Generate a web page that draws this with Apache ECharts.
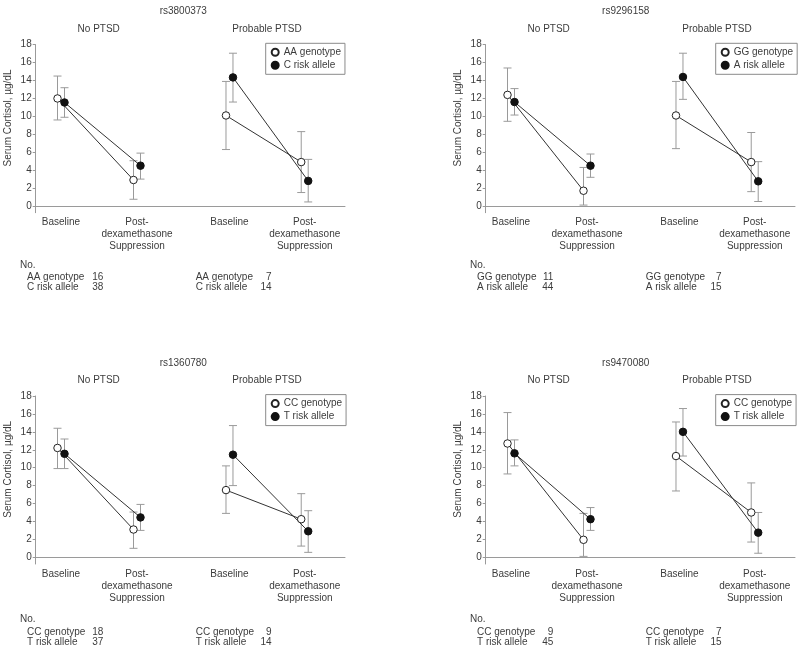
<!DOCTYPE html>
<html>
<head>
<meta charset="utf-8">
<script src="https://cdn.jsdelivr.net/npm/echarts@6/dist/echarts.min.js"></script>
<style>html,body{margin:0;padding:0;background:#fff}#c{width:800px;height:653px}</style>
</head>
<body>
<div id="c"></div>
<script>
// ---------- data ----------
const snps = ['rs3800373', 'rs9296158', 'rs1360780', 'rs9470080'];
const groups = ['No PTSD', 'Probable PTSD'];
const timeLabels = ['Baseline', 'Post-\ndexamethasone\nSuppression', 'Baseline', 'Post-\ndexamethasone\nSuppression'];
const refNames = ['AA genotype', 'GG genotype', 'CC genotype', 'CC genotype'];
const riskNames = ['C risk allele', 'A risk allele', 'T risk allele', 'T risk allele'];
const yTicks = [0, 2, 4, 6, 8, 10, 12, 14, 16, 18];

// order of values: [No PTSD baseline, No PTSD post, Probable baseline, Probable post]
const refMean = [
  [12.0, 2.9, 10.1, 4.9],
  [12.4, 1.7, 10.1, 4.9],
  [12.2, 3.1, 7.5, 4.25],
  [12.7, 1.95, 11.3, 5.0]
];
const refLow = [
  [9.6, 0.75, 6.3, 1.5],
  [9.45, 0.1, 6.4, 1.6],
  [9.9, 1.0, 4.9, 1.25],
  [9.3, 0.1, 7.4, 1.7]
];
const refHigh = [
  [14.5, 5.05, 13.9, 8.3],
  [15.4, 4.3, 13.9, 8.2],
  [14.4, 5.05, 10.2, 7.1],
  [16.15, 4.9, 15.1, 8.3]
];
const riskMean = [
  [11.55, 4.5, 14.35, 2.8],
  [11.6, 4.5, 14.4, 2.75],
  [11.55, 4.45, 11.45, 2.9],
  [11.6, 4.25, 14.0, 2.75]
];
const riskLow = [
  [9.9, 3.0, 11.6, 0.45],
  [10.15, 3.2, 11.9, 0.5],
  [9.9, 3.0, 8.0, 0.55],
  [10.2, 3.0, 11.3, 0.45]
];
const riskHigh = [
  [13.2, 5.9, 17.05, 5.2],
  [13.1, 5.8, 17.05, 4.95],
  [13.2, 5.9, 14.7, 5.2],
  [13.1, 5.55, 16.6, 5.0]
];
// counts: [No PTSD, Probable PTSD]
const refN = [[16, 7], [11, 7], [18, 9], [9, 7]];
const riskN = [[38, 14], [44, 15], [37, 14], [45, 15]];

// ---------- layout ----------
const xPos = [1, 2, 3.217, 4.207];
const xOff = 0.046;
const panelDX = [0, 450, 0, 450];
const panelDY = [0, 0, 351.3, 351.3];
const tableDY = [0, 0, 354.3, 354.3];
const titleDX = [0, 442.4, 0, 442.4];
const FONT = "'Liberation Sans', Arial, sans-serif";
const TXT = '#3c3c3c';

const grids = [], xAxes = [], yAxes = [], series = [], legends = [], graphics = [];

function errRender(params, api) {
  const x = api.value(0), lo = api.value(1), hi = api.value(2);
  const p1 = api.coord([x, hi]), p2 = api.coord([x, lo]);
  const w = 4;
  const st = { stroke: '#9a9a9a', lineWidth: 1 };
  return {
    type: 'group', children: [
      { type: 'line', shape: { x1: p1[0], y1: p1[1], x2: p2[0], y2: p2[1] }, style: st },
      { type: 'line', shape: { x1: p1[0] - w, y1: p1[1], x2: p1[0] + w, y2: p1[1] }, style: st },
      { type: 'line', shape: { x1: p2[0] - w, y1: p2[1], x2: p2[0] + w, y2: p2[1] }, style: st }
    ]
  };
}

function txt(x, y, text, align, extra) {
  return Object.assign({
    type: 'text', x: x, y: y, silent: true,
    style: { text: text, fill: TXT, font: '10px ' + FONT, textAlign: align || 'left', textVerticalAlign: 'middle' }
  }, extra || {});
}

for (let p = 0; p < 4; p++) {
  const dx = panelDX[p], dy = panelDY[p], tdy = tableDY[p];
  grids.push({ left: 35.7 + dx, top: 44.7 + dy, width: 309.3, height: 168 });
  xAxes.push({
    type: 'value', gridIndex: p, min: 0.667, max: 4.737,
    axisLine: { show: true, lineStyle: { color: '#9a9a9a', width: 1 } },
    axisTick: { show: false },
    splitLine: { show: false },
    axisLabel: {
      customValues: xPos, margin: 4, color: TXT, fontSize: 10, fontFamily: FONT, lineHeight: 12,
      formatter: function (v) {
        let best = 0;
        for (let i = 0; i < xPos.length; i++) if (Math.abs(xPos[i] - v) < Math.abs(xPos[best] - v)) best = i;
        return timeLabels[best];
      }
    }
  });
  yAxes.push({
    type: 'value', gridIndex: p, min: -0.75, max: 18,
    axisLine: { show: true, lineStyle: { color: '#9a9a9a', width: 1 } },
    axisTick: { show: true, customValues: yTicks, length: 3, lineStyle: { color: '#9a9a9a' } },
    splitLine: { show: false },
    axisLabel: { customValues: yTicks, margin: 4, color: TXT, fontSize: 10, fontFamily: FONT }
  });

  // error bars
  const errData = [];
  for (let k = 0; k < 4; k++) {
    errData.push([xPos[k] - xOff, refLow[p][k], refHigh[p][k]]);
    errData.push([xPos[k] + xOff, riskLow[p][k], riskHigh[p][k]]);
  }
  series.push({
    type: 'custom', xAxisIndex: p, yAxisIndex: p, renderItem: errRender,
    encode: { x: 0, y: [1, 2] }, data: errData, z: 1, silent: true
  });

  // lines + markers
  for (let g = 0; g < 2; g++) {
    const i0 = g * 2, i1 = g * 2 + 1;
    series.push({
      name: refNames[p], type: 'line', xAxisIndex: p, yAxisIndex: p, z: 3,
      data: [[xPos[i0] - xOff, refMean[p][i0]], [xPos[i1] - xOff, refMean[p][i1]]],
      symbol: 'circle', symbolSize: 7.5, showSymbol: true,
      lineStyle: { color: '#333', width: 1 },
      itemStyle: { color: '#fff', borderColor: '#222', borderWidth: 1 },
      emphasis: { disabled: true }, animation: false
    });
    series.push({
      name: riskNames[p], type: 'line', xAxisIndex: p, yAxisIndex: p, z: 3,
      data: [[xPos[i0] + xOff, riskMean[p][i0]], [xPos[i1] + xOff, riskMean[p][i1]]],
      symbol: 'circle', symbolSize: 7.5, showSymbol: true,
      lineStyle: { color: '#333', width: 1 },
      itemStyle: { color: '#111', borderColor: '#111', borderWidth: 1 },
      emphasis: { disabled: true }, animation: false
    });
  }

  legends.push({
    left: 265.7 + dx, top: 43.3 + dy, orient: 'vertical',
    data: [refNames[p], riskNames[p]],
    icon: 'circle', itemWidth: 7, itemHeight: 7, itemGap: 3, itemTextGap: 4,
    padding: [4, 4, 4, 5], borderColor: '#8a8a8a', borderWidth: 1,
    textStyle: { fontSize: 10, color: TXT, fontFamily: FONT },
    selectedMode: false
  });

  // texts
  graphics.push(txt(183.3 + titleDX[p], 11.7 + dy, snps[p], 'center'));
  graphics.push(txt(98.7 + dx, 29 + dy, groups[0], 'center'));
  graphics.push(txt(267 + dx, 29 + dy, groups[1], 'center'));
  graphics.push(txt(8.3 + dx, 118 + dy, 'Serum Cortisol, µg/dL', 'center', { rotation: Math.PI / 2 }));
  graphics.push(txt(20 + dx, 265 + tdy, 'No.', 'left'));
  graphics.push(txt(27 + dx, 277.7 + tdy, refNames[p], 'left'));
  graphics.push(txt(27 + dx, 287.7 + tdy, riskNames[p], 'left'));
  graphics.push(txt(103.3 + dx, 277.7 + tdy, String(refN[p][0]), 'right'));
  graphics.push(txt(103.3 + dx, 287.7 + tdy, String(riskN[p][0]), 'right'));
  graphics.push(txt(195.7 + dx, 277.7 + tdy, refNames[p], 'left'));
  graphics.push(txt(195.7 + dx, 287.7 + tdy, riskNames[p], 'left'));
  graphics.push(txt(271.5 + dx, 277.7 + tdy, String(refN[p][1]), 'right'));
  graphics.push(txt(271.5 + dx, 287.7 + tdy, String(riskN[p][1]), 'right'));
}

const chart = echarts.init(document.getElementById('c'), null, { renderer: 'canvas' });
chart.setOption({
  animation: false,
  backgroundColor: '#fff',
  grid: grids, xAxis: xAxes, yAxis: yAxes, series: series, legend: legends,
  graphic: { elements: graphics }
});
</script>
</body>
</html>
